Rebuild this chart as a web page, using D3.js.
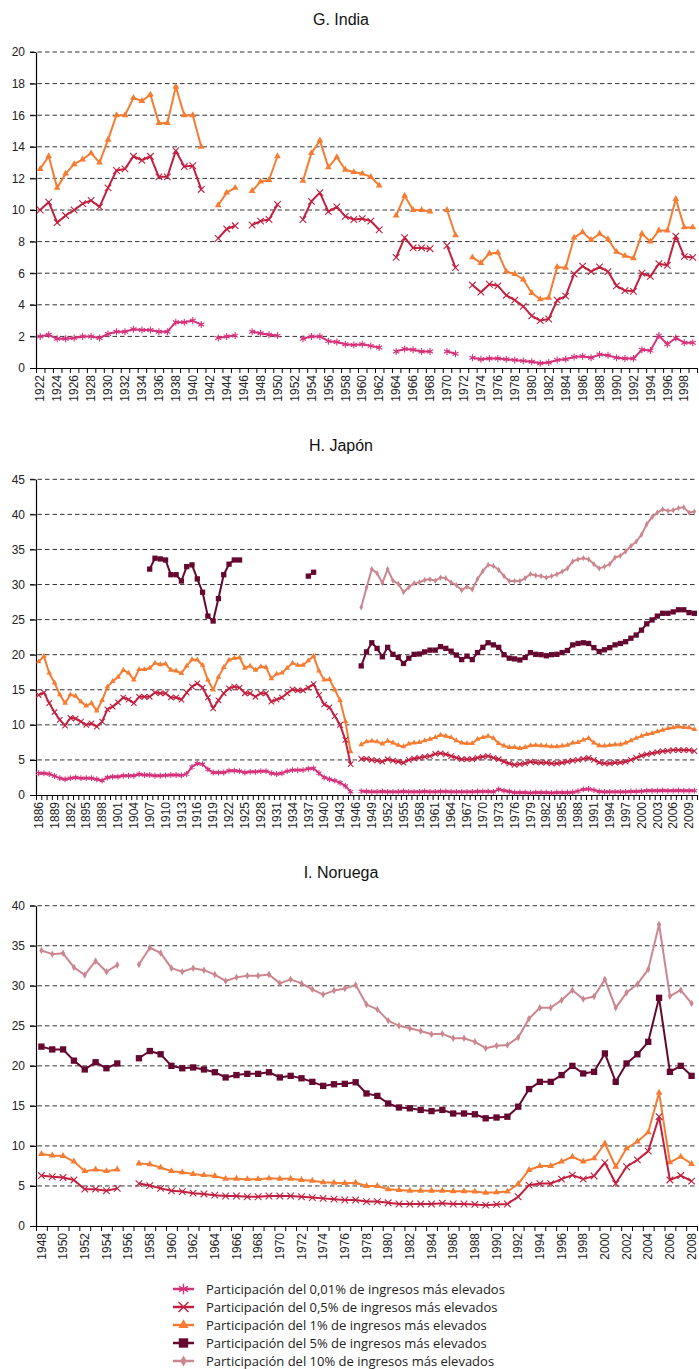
<!DOCTYPE html>
<html>
<head>
<meta charset="utf-8">
<script src="https://cdn.jsdelivr.net/npm/d3@7"></script>
<style>
  body { margin: 0; background: #fff; }
  svg { display: block; }
</style>
</head>
<body>
<div id="chart"></div>
<script>
// ---- data ----
// G. India, 1922-1999 (null = no observation)
const indiaYears = d3.range(1922, 2000);
const india1 = [12.6, 13.4, 11.4, 12.3, 12.9, 13.2, 13.6, 13.0, 14.45, 16.0,
  16.0, 17.1, 16.9, 17.3, 15.5, 15.5, 17.8, 16.0, 16.0, 14.0,
  null, 10.3, 11.1, 11.4, null, 11.2, 11.8, 11.9, 13.4, null,
  null, 11.85, 13.6, 14.4, 12.7, 13.35, 12.55, 12.4, 12.3, 12.1,
  11.55, null, 9.65, 10.9, 10.0, 10.0, 9.9, null, 10.0, 8.4,
  null, 7.0, 6.65, 7.25, 7.3, 6.1, 5.95, 5.6, 4.75, 4.35,
  4.45, 6.4, 6.35, 8.25, 8.6, 8.1, 8.5, 8.15, 7.35, 7.1,
  6.95, 8.5, 8.0, 8.7, 8.7, 10.7, 8.9, 8.9];
const india05 = [10.0, 10.5, 9.2, 9.65, 10.0, 10.4, 10.6, 10.2, 11.4, 12.5,
  12.6, 13.4, 13.15, 13.4, 12.1, 12.1, 13.75, 12.75, 12.8, 11.3,
  null, 8.2, 8.8, 9.0, null, 9.05, 9.3, 9.4, 10.35, null,
  null, 9.4, 10.55, 11.1, 9.9, 10.2, 9.6, 9.4, 9.45, 9.3,
  8.75, null, 7.0, 8.25, 7.6, 7.6, 7.55, null, 7.75, 6.35,
  null, 5.25, 4.8, 5.3, 5.2, 4.6, 4.3, 3.9, 3.3, 3.0,
  3.1, 4.3, 4.55, 5.95, 6.45, 6.1, 6.4, 6.1, 5.2, 4.9,
  4.85, 6.0, 5.8, 6.6, 6.5, 8.35, 7.05, 7.0];
const india001 = [2.0, 2.1, 1.85, 1.85, 1.9, 2.0, 2.0, 1.9, 2.15, 2.3,
  2.3, 2.45, 2.4, 2.4, 2.3, 2.3, 2.9, 2.9, 3.0, 2.75,
  null, 1.9, 2.0, 2.05, null, 2.3, 2.2, 2.1, 2.05, null,
  null, 1.85, 2.0, 2.0, 1.7, 1.65, 1.5, 1.45, 1.5, 1.4,
  1.3, null, 1.05, 1.2, 1.15, 1.05, 1.05, null, 1.05, 0.9,
  null, 0.65, 0.55, 0.6, 0.6, 0.55, 0.5, 0.45, 0.4, 0.3,
  0.35, 0.5, 0.55, 0.7, 0.75, 0.65, 0.85, 0.8, 0.65, 0.6,
  0.6, 1.15, 1.1, 2.05, 1.5, 1.9, 1.6, 1.6];

// H. Japón, 1886-2010
const japanYears = d3.range(1886, 2011);
const japan1 = [19.0, 19.8, 17.4, 16.0, 14.3, 13.1, 14.3, 14.1, 13.3, 12.7,
  13.1, 12.0, 13.5, 15.4, 16.2, 16.8, 17.8, 17.4, 16.4, 17.9,
  17.9, 18.1, 18.8, 18.6, 18.7, 17.8, 17.7, 17.35, 18.4, 19.3,
  19.25, 18.5, 16.4, 15.0, 16.8, 18.2, 19.25, 19.5, 19.6, 18.1,
  18.4, 17.8, 18.3, 18.2, 16.6, 17.25, 17.4, 18.1, 18.8, 18.5,
  18.5, 19.15, 19.8, 17.7, 16.4, 16.5, 15.0, 13.5, 10.5, 6.2,
  null,
  7.2, 7.6, 7.7, 7.6, 7.3, 7.7, 7.45, 7.1, 6.9, 7.3,
  7.45, 7.5, 7.75, 7.95, 8.2, 8.55, 8.4, 8.2, 7.75, 7.45,
  7.35, 7.35, 7.95, 8.2, 8.4, 8.1, 7.35, 7.0, 6.8, 6.8,
  6.65, 6.8, 7.05, 7.1, 7.05, 7.0, 6.9, 6.9, 7.0, 7.1,
  7.45, 7.5, 7.85, 8.1, 7.45, 7.05, 7.0, 7.1, 7.2, 7.2,
  7.45, 7.75, 8.1, 8.4, 8.65, 8.8, 9.05, 9.25, 9.5, 9.6,
  9.75, 9.65, 9.6, 9.35];
const japan05 = [14.25, 14.6, 13.1, 11.8, 10.7, 9.9, 11.0, 10.9, 10.45, 10.0,
  10.2, 9.75, 10.45, 12.2, 12.6, 13.2, 13.9, 13.6, 13.1, 14.0,
  14.0, 14.0, 14.6, 14.5, 14.5, 13.9, 13.9, 13.6, 14.6, 15.45,
  15.9, 15.3, 13.9, 12.35, 13.5, 14.5, 15.2, 15.45, 15.3, 14.5,
  14.5, 14.0, 14.5, 14.5, 13.3, 13.6, 13.9, 14.5, 15.05, 14.9,
  14.9, 15.3, 15.8, 14.25, 12.9, 12.5, 11.25, 10.0, 7.85, 4.4,
  null,
  5.15, 5.15, 5.0, 4.9, 4.75, 5.1, 4.9, 4.75, 4.6, 5.0,
  5.2, 5.3, 5.45, 5.55, 5.85, 5.95, 5.8, 5.55, 5.3, 5.1,
  5.1, 5.1, 5.3, 5.45, 5.55, 5.3, 5.1, 4.75, 4.5, 4.3,
  4.4, 4.5, 4.75, 4.65, 4.6, 4.6, 4.5, 4.5, 4.6, 4.75,
  4.9, 5.0, 5.15, 5.3, 5.0, 4.65, 4.5, 4.5, 4.6, 4.65,
  4.75, 5.0, 5.3, 5.6, 5.8, 5.95, 6.1, 6.25, 6.3, 6.4,
  6.4, 6.4, 6.4, 6.25];
const japan001 = [3.1, 3.1, 3.0, 2.7, 2.4, 2.25, 2.4, 2.5, 2.4, 2.4,
  2.4, 2.25, 2.05, 2.5, 2.6, 2.6, 2.75, 2.75, 2.75, 2.95,
  2.85, 2.85, 2.75, 2.75, 2.8, 2.85, 2.85, 2.8, 3.0, 4.0,
  4.5, 4.4, 3.65, 3.2, 3.2, 3.2, 3.45, 3.45, 3.4, 3.2,
  3.3, 3.3, 3.4, 3.4, 3.1, 3.0, 3.1, 3.4, 3.55, 3.55,
  3.55, 3.75, 3.8, 3.1, 2.5, 2.25, 2.05, 1.75, 1.3, 0.45,
  null,
  0.55, 0.5, 0.45, 0.45, 0.5, 0.45, 0.45, 0.45, 0.5, 0.45,
  0.45, 0.45, 0.5, 0.45, 0.45, 0.5, 0.5, 0.45, 0.45, 0.45,
  0.45, 0.45, 0.5, 0.5, 0.5, 0.45, 0.8, 0.6, 0.5, 0.35,
  0.35, 0.35, 0.3, 0.35, 0.35, 0.35, 0.3, 0.35, 0.35, 0.35,
  0.4, 0.55, 0.8, 0.85, 0.7, 0.5, 0.45, 0.45, 0.45, 0.45,
  0.45, 0.5, 0.5, 0.55, 0.6, 0.6, 0.6, 0.65, 0.6, 0.6,
  0.65, 0.6, 0.6, 0.6];
const japan5 = [null, null, null, null, null, null, null, null, null, null,
  null, null, null, null, null, null, null, null, null, null,
  null, 32.2, 33.75, 33.65, 33.5, 31.4, 31.4, 30.5, 32.55, 32.8,
  30.8, 28.9, 25.5, 24.8, 28.0, 31.4, 32.9, 33.5, 33.5, null,
  null, null, null, null, null, null, null, null, null, null,
  null, 31.2, 31.75, null, null, null, null, null, null, null,
  null,
  18.4, 20.4, 21.7, 20.9, 19.7, 21.05, 20.05, 19.6, 18.75, 19.5,
  20.05, 20.1, 20.4, 20.65, 20.65, 21.15, 20.9, 20.5, 19.95, 19.3,
  19.8, 19.3, 20.3, 21.05, 21.7, 21.4, 21.05, 20.0, 19.5, 19.4,
  19.25, 19.6, 20.3, 20.05, 20.0, 19.85, 20.0, 20.05, 20.3, 20.6,
  21.4, 21.6, 21.7, 21.6, 21.0, 20.45, 20.7, 21.0, 21.4, 21.6,
  21.85, 22.35, 22.8, 23.5, 24.4, 24.95, 25.5, 25.9, 25.9, 26.1,
  26.4, 26.4, 26.0, 25.9];
const japan10 = Array(61).fill(null).concat([
  26.75, 29.55, 32.2, 31.6, 30.2, 32.2, 30.55, 30.1, 28.9, 29.6,
  30.2, 30.3, 30.65, 30.75, 30.55, 31.0, 30.9, 30.3, 29.9, 29.2,
  29.7, 29.3, 30.8, 31.9, 32.8, 32.65, 32.1, 31.2, 30.5, 30.5,
  30.5, 30.9, 31.5, 31.3, 31.2, 31.0, 31.2, 31.45, 31.85, 32.3,
  33.3, 33.6, 33.75, 33.6, 32.9, 32.3, 32.55, 32.9, 33.85, 34.1,
  34.7, 35.5, 36.1, 37.1, 38.6, 39.6, 40.25, 40.7, 40.5, 40.6,
  40.9, 41.0, 40.25, 40.4]);

// I. Noruega, 1948-2008
const norwayYears = d3.range(1948, 2009);
const norway10 = [34.4, 33.95, 34.05, 32.3, 31.35, 33.1, 31.75, 32.6, null, 32.65,
  34.75, 34.1, 32.2, 31.75, 32.2, 31.95, 31.4, 30.6, 31.05, 31.25,
  31.25, 31.4, 30.3, 30.8, 30.3, 29.55, 28.9, 29.4, 29.65, 30.1,
  27.65, 27.05, 25.65, 25.0, 24.7, 24.35, 23.95, 24.0, 23.45, 23.45,
  23.0, 22.2, 22.5, 22.6, 23.55, 25.9, 27.25, 27.25, 28.2, 29.45,
  28.35, 28.65, 30.8, 27.25, 29.15, 30.2, 32.05, 37.65, 28.7, 29.45,
  27.8];
const norway5 = [22.4, 22.05, 22.05, 20.65, 19.55, 20.45, 19.7, 20.3, null, 20.95,
  21.85, 21.45, 20.0, 19.7, 19.8, 19.55, 19.2, 18.55, 18.85, 19.0,
  19.0, 19.2, 18.55, 18.75, 18.45, 18.0, 17.5, 17.7, 17.75, 17.95,
  16.55, 16.25, 15.3, 14.8, 14.7, 14.5, 14.35, 14.5, 14.05, 14.05,
  13.95, 13.45, 13.55, 13.65, 14.9, 17.1, 18.0, 18.0, 18.85, 20.0,
  19.05, 19.25, 21.55, 18.0, 20.3, 21.45, 23.0, 28.5, 19.25, 20.0,
  18.75];
const norway1 = [9.0, 8.8, 8.75, 8.05, 6.85, 7.05, 6.85, 7.05, null, 7.8,
  7.7, 7.3, 6.85, 6.7, 6.5, 6.35, 6.25, 5.9, 5.9, 5.85,
  5.85, 5.95, 5.9, 5.9, 5.75, 5.65, 5.45, 5.4, 5.35, 5.4,
  5.0, 5.0, 4.6, 4.5, 4.4, 4.4, 4.4, 4.4, 4.35, 4.35,
  4.3, 4.15, 4.2, 4.3, 5.25, 7.0, 7.5, 7.5, 8.05, 8.65,
  8.05, 8.45, 10.3, 7.4, 9.7, 10.55, 11.7, 16.65, 7.95, 8.65,
  7.75];
const norway05 = [6.3, 6.15, 6.05, 5.75, 4.6, 4.6, 4.4, 4.7, null, 5.3,
  5.05, 4.7, 4.4, 4.3, 4.1, 4.0, 3.85, 3.75, 3.75, 3.65,
  3.65, 3.75, 3.75, 3.75, 3.65, 3.55, 3.45, 3.35, 3.25, 3.25,
  3.05, 3.05, 2.9, 2.75, 2.75, 2.75, 2.75, 2.85, 2.75, 2.75,
  2.7, 2.6, 2.7, 2.75, 3.65, 5.1, 5.3, 5.3, 5.85, 6.35,
  5.85, 6.25, 7.9, 5.3, 7.4, 8.25, 9.35, 13.65, 5.75, 6.3,
  5.6];

const legendLabels = [
  'Participación del 0,01% de ingresos más elevados',
  'Participación del 0,5% de ingresos más elevados',
  'Participación del 1% de ingresos más elevados',
  'Participación del 5% de ingresos más elevados',
  'Participación del 10% de ingresos más elevados'
];

// ---- styles ----
var seriesStyle = {
  s001: {color: '#d6317b', type: d3.symbolAsterisk, stroked: true, size: 34},
  s05:  {color: '#c3203f', type: d3.symbolTimes, stroked: true, size: 30},
  s1:   {color: '#f57c33', type: d3.symbolTriangle, stroked: false, size: 20},
  s5:   {color: '#650830', type: d3.symbolSquare, stroked: false, size: 40},
  s10:  {color: '#cb8690', type: d3.symbolDiamond, stroked: false, size: 16}
};

var W = 699, H = 1369;
var left = 36, right = 697;

var svg = d3.select('#chart').append('svg')
  .attr('width', W)
  .attr('height', H)
  .style('font-family', '"Liberation Sans", Arial, sans-serif');

function drawPanel(p) {
  var g = svg.append('g');

  g.append('text')
    .attr('x', 341)
    .attr('y', p.titleY)
    .attr('text-anchor', 'middle')
    .style('font-size', '16px')
    .style('fill', '#111')
    .text(p.title);

  var x = d3.scaleBand()
    .domain(p.years)
    .range([left, right])
    .paddingInner(0)
    .paddingOuter(0);

  var y = d3.scaleLinear()
    .domain([0, p.yMax])
    .range([p.bottom, p.top]);

  var yTicks = d3.range(0, p.yMax + 0.001, p.yStep);

  // dashed gridlines
  g.append('g')
    .selectAll('line')
    .data(yTicks.filter(function(d) { return d > 0; }))
    .enter()
    .append('line')
    .attr('x1', 30)
    .attr('x2', 695)
    .attr('y1', function(d) { return y(d); })
    .attr('y2', function(d) { return y(d); })
    .attr('stroke', '#333')
    .attr('stroke-width', 1)
    .attr('stroke-dasharray', '4.5,3');

  // y axis
  var yAxis = g.append('g')
    .attr('transform', 'translate(' + left + ',0)')
    .call(d3.axisLeft(y).tickValues(yTicks).tickSize(6).tickSizeOuter(0).tickPadding(5));
  yAxis.select('.domain').attr('stroke', '#000').attr('stroke-width', 1.2);
  yAxis.selectAll('.tick line').attr('stroke', '#000');
  yAxis.selectAll('text')
    .style('font-size', '12px')
    .style('fill', '#222')
    .style('font-family', '"Liberation Sans", Arial, sans-serif');

  // x axis: tick marks between categories
  var n = p.years.length;
  var edge = d3.scaleLinear().domain([0, n]).range([left, right]);
  var xEdges = g.append('g')
    .attr('transform', 'translate(0,' + p.bottom + ')')
    .call(d3.axisBottom(edge).tickValues(d3.range(n + 1)).tickSize(5).tickSizeOuter(0).tickFormat(''));
  xEdges.select('.domain').attr('stroke', '#000').attr('stroke-width', 1.2);
  xEdges.selectAll('.tick line').attr('stroke', '#000');

  // x labels
  var xLabels = g.append('g')
    .attr('transform', 'translate(0,' + p.bottom + ')')
    .call(d3.axisBottom(x)
      .tickValues(p.years.filter(function(d) { return (d - p.years[0]) % p.labelEvery === 0; }))
      .tickSize(0));
  xLabels.select('.domain').remove();
  xLabels.selectAll('text')
    .attr('transform', 'rotate(-90)')
    .attr('x', -7)
    .attr('y', 0)
    .attr('dy', '0.35em')
    .style('text-anchor', 'end')
    .style('font-size', '12px')
    .style('fill', '#222')
    .style('font-family', '"Liberation Sans", Arial, sans-serif');

  // series
  p.series.forEach(function(s) {
    var st = seriesStyle[s.key];
    var pts = p.years.map(function(yr, i) { return {year: yr, value: s.values[i]}; });

    var line = d3.line()
      .defined(function(d) { return d.value != null; })
      .x(function(d) { return x(d.year) + x.bandwidth() / 2; })
      .y(function(d) { return y(d.value); });

    g.append('path')
      .datum(pts)
      .attr('fill', 'none')
      .attr('stroke', st.color)
      .attr('stroke-width', 2)
      .attr('stroke-linejoin', 'round')
      .attr('d', line);

    var sym = d3.symbol().type(st.type).size(st.size * p.markerScale);
    g.append('g')
      .selectAll('path')
      .data(pts.filter(function(d) { return d.value != null; }))
      .enter()
      .append('path')
      .attr('transform', function(d) {
        return 'translate(' + (x(d.year) + x.bandwidth() / 2) + ',' + y(d.value) + ')';
      })
      .attr('d', sym)
      .attr('fill', st.stroked ? 'none' : st.color)
      .attr('stroke', st.stroked ? st.color : 'none')
      .attr('stroke-width', 1.1);
  });
}

drawPanel({
  title: 'G. India', titleY: 25, top: 52, bottom: 368, yMax: 20, yStep: 2,
  years: indiaYears, labelEvery: 2, markerScale: 1,
  series: [
    {key: 's1', values: india1},
    {key: 's05', values: india05},
    {key: 's001', values: india001}
  ]
});

drawPanel({
  title: 'H. Japón', titleY: 451, top: 479.3, bottom: 795, yMax: 45, yStep: 5,
  years: japanYears, labelEvery: 3, markerScale: 0.7,
  series: [
    {key: 's10', values: japan10},
    {key: 's5', values: japan5},
    {key: 's1', values: japan1},
    {key: 's05', values: japan05},
    {key: 's001', values: japan001}
  ]
});

drawPanel({
  title: 'I. Noruega', titleY: 878, top: 905.7, bottom: 1226, yMax: 40, yStep: 5,
  years: norwayYears, labelEvery: 2, markerScale: 1,
  series: [
    {key: 's10', values: norway10},
    {key: 's5', values: norway5},
    {key: 's1', values: norway1},
    {key: 's05', values: norway05}
  ]
});

// legend
var legendKeys = ['s001', 's05', 's1', 's5', 's10'];
var legend = svg.append('g');
legendKeys.forEach(function(k, i) {
  var st = seriesStyle[k];
  var ly = 1289 + i * 18;
  legend.append('line')
    .attr('x1', 173).attr('x2', 194)
    .attr('y1', ly).attr('y2', ly)
    .attr('stroke', st.color)
    .attr('stroke-width', 2.5);
  legend.append('path')
    .attr('transform', 'translate(183.5,' + ly + ')')
    .attr('d', d3.symbol().type(st.type).size(st.size * 2.2))
    .attr('fill', st.stroked ? 'none' : st.color)
    .attr('stroke', st.stroked ? st.color : 'none')
    .attr('stroke-width', 1.4);
  legend.append('text')
    .attr('x', 206)
    .attr('y', ly)
    .attr('dy', '0.35em')
    .style('font-family', '"Open Sans", "Noto Sans", sans-serif')
    .style('font-size', '13px')
    .style('fill', '#222')
    .text(legendLabels[i]);
});
</script>
</body>
</html>
